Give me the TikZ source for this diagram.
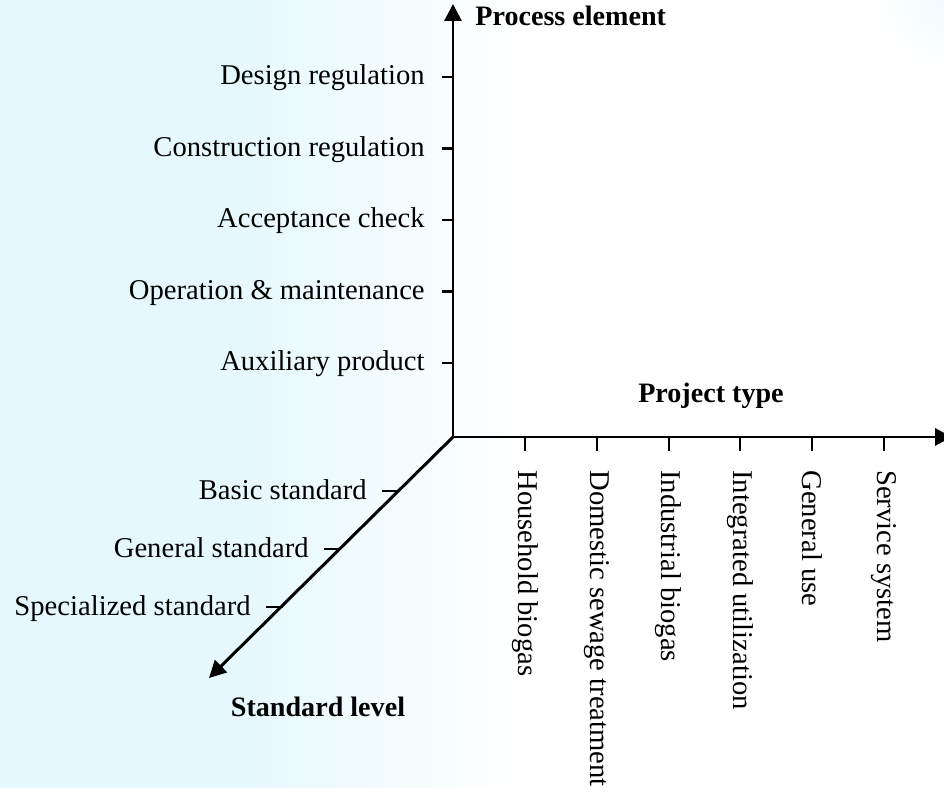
\documentclass[tikz,border=0pt]{standalone}
\usepackage{fontspec}
\setmainfont{Liberation Serif}
\usetikzlibrary{arrows.meta, calc}
\definecolor{wash}{RGB}{228,248,253}
\tikzstyle{axis} = [line width=1.7pt, -{Triangle[length=3.4mm, width=3.4mm]}]
\tikzstyle{tickmark} = [line width=1.2pt]
\tikzstyle{ticklabel} = [inner sep=0pt]
\tikzstyle{axistitle} = [inner sep=0pt, font=\fontsize{16}{19}\selectfont\bfseries]

\begin{document}
\begin{tikzpicture}[x=0.02cm, y=0.02cm, font=\fontsize{16.3}{19}\selectfont]

% Background
\useasboundingbox (0,0) rectangle (944,788);
\fill[white] (0,0) rectangle (944,788);
\fill[wash] (0,0) rectangle (220,788);
\shade[left color=wash, right color=white] (220,0) rectangle (520,788);
\shade[inner color=wash!50, outer color=white] (944,788) circle (70);

% Axes
\coordinate (O) at (453,351);
\coordinate (pe) at (453,784);
\coordinate (pt) at (952,351);
\coordinate (sl) at (209,110);
\draw [axis] (O) -- (pe);
\draw [axis] (O) -- (pt);
\draw [axis] (O) -- (sl);

% Axis titles
\node (petitle) [axistitle, anchor=base west] at (475,762) {Process element};
\node (pttitle) [axistitle, anchor=base] at (711,385) {Project type};
\node (sltitle) [axistitle, anchor=base] at (318,71) {Standard level};

% Process element ticks
\foreach \lab [count=\i] in {Design regulation, Construction regulation, Acceptance check, Operation \& maintenance, Auxiliary product} {
  \coordinate (pe\i) at (453, 782.5-71.5*\i);
  \draw [tickmark] (pe\i) -- ++(-11,0) coordinate (pew\i);
  \node (pelab\i) [ticklabel, anchor=base east] at ($(pew\i)+(-17,-8)$) {\lab};
}

% Project type ticks
\foreach \lab [count=\i] in {Household biogas, Domestic sewage treatment, Industrial biogas, Integrated utilization, General use, Service system} {
  \coordinate (pt\i) at (453.2+71.8*\i, 351);
  \draw [tickmark] (pt\i) -- ++(0,-14) coordinate (pts\i);
  \node (ptlab\i) [ticklabel, rotate=-90, anchor=west] at ($(pts\i)+(0,-19)$) {\lab};
}

% Standard level ticks
\foreach \lab [count=\i] in {Basic standard, General standard, Specialized standard} {
  \coordinate (sl\i) at (457-58*\i, 355-58*\i);
  \draw [tickmark] (sl\i) -- ++(-17,0) coordinate (slw\i);
  \node (sllab\i) [ticklabel, anchor=base east] at ($(slw\i)+(-15,-9)$) {\lab};
}

\end{tikzpicture}
\end{document}
